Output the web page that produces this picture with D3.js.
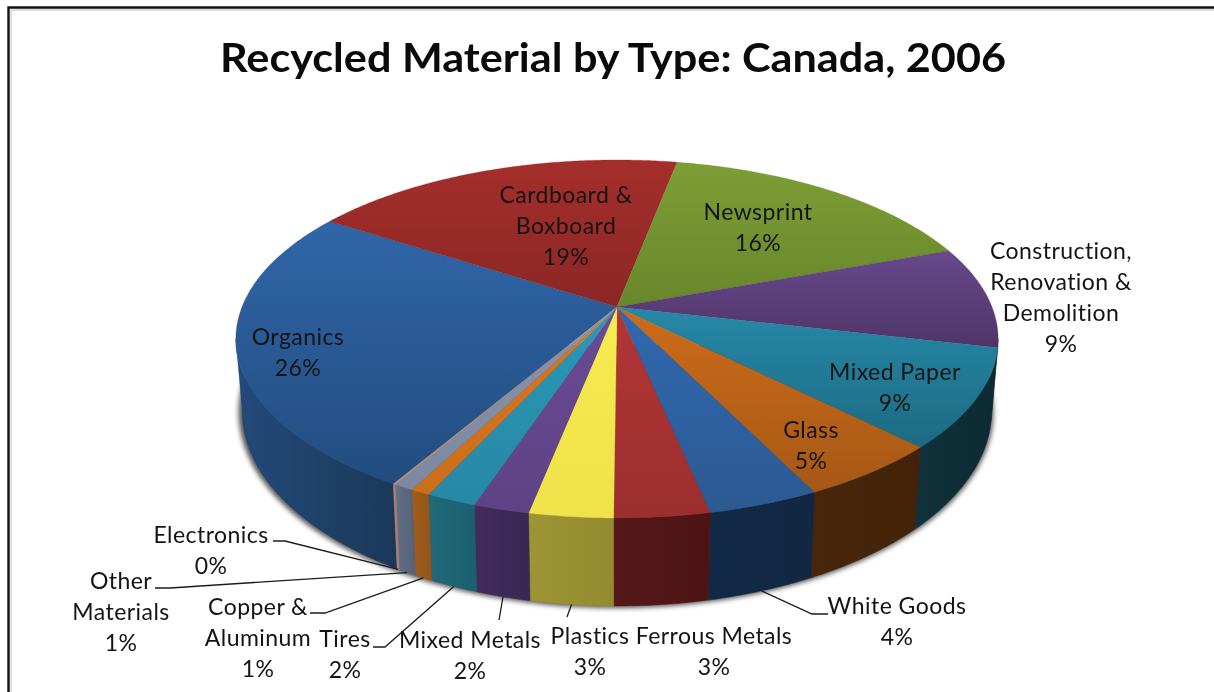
<!DOCTYPE html>
<html>
<head>
<meta charset="utf-8">
<script src="https://cdn.jsdelivr.net/npm/d3@7"></script>
<style>
  html, body { margin: 0; padding: 0; background: #fff; overflow: hidden; }
  svg { display: block; filter: blur(0.5px); }
  .lbl { font-family: Lato, "Noto Sans", sans-serif; font-size: 23px; fill: #141414; text-anchor: middle; dominant-baseline: central; letter-spacing: 0.45px; }
  .ttl { font-family: Lato, "Noto Sans", sans-serif; font-size: 41px; font-weight: 700; fill: #0a0a0a; text-anchor: middle; }
</style>
</head>
<body>
<div id="chart"></div>
<script>
// values, labels show them rounded
let categories = ["Organics", "Cardboard & Boxboard", "Newsprint", "Construction, Renovation & Demolition",
  "Mixed Paper", "Glass", "White Goods", "Ferrous Metals", "Plastics", "Mixed Metals", "Tires",
  "Copper & Aluminum", "Other Materials", "Electronics"]
let values = [25.7, 18.9, 16.4, 9.2, 8.9, 5.2, 4.0, 3.4, 3.0, 2.0, 1.8, 0.7, 0.7, 0.1]

let topLight = ["#3066a9", "#a52e2b", "#7d9e35", "#68488c", "#2689a8", "#cc6c1a", "#3168b0", "#b23636", "#f6eb50", "#6b4a95", "#2b98b8", "#da761e", "#8794aa", "#b09088"]
let topDark = ["#224c7e", "#8a2725", "#68872b", "#4f3468", "#1c6a82", "#a65816", "#2b5a92", "#9c2e2e", "#efe24a", "#5f4285", "#2688a5", "#cc6e1a", "#7b88a0", "#b09088"]
let sideLight = ["#234a7a", "#1c2020", "#333", "#333", "#10323c", "#47260b", "#132a47", "#551717", "#9d9436", "#412c5c", "#216a7a", "#a05d1b", "#626e84", "#a98078"]
let sideDark = ["#1b3859", "#1c2020", "#333", "#333", "#0d2a32", "#42230a", "#112742", "#4e1414", "#948b30", "#3a2753", "#1b5f6e", "#93541a", "#566278", "#a98078"]

// label lines sit at these centres, line pitch is fixed
let labelLines = [["Organics"], ["Cardboard &", "Boxboard"], ["Newsprint"], ["Construction,", "Renovation &", "Demolition"],
  ["Mixed Paper"], ["Glass"], ["White Goods"], ["Ferrous Metals"], ["Plastics"], ["Mixed Metals"], ["Tires"],
  ["Copper &", "Aluminum"], ["Other", "Materials"], ["Electronics"]]
let labelX = [298, 566, 758, 1061, 895, 811, 897, 714, 590, 470, 345, 258, 121, 211]
let labelY = [336, 194, 211, 250, 371, 429, 605, 635, 635, 639, 638, 606, 580, 534]
// leader knees, null = no leader
let leaderKnee = [null, null, null, null, null, null, [[828, 614], [812, 614]], null,
  [[567, 617]], [[499, 620]], [[373, 647], [385, 647]], [[310, 613], [325, 613]], [[155, 588], [170, 588]], [[273, 541], [285, 541]]]

let width = 1214, height = 692

let svg = d3.select("#chart").append("svg").attr("width", width).attr("height", height)
let defs = svg.append("defs")
defs.append("filter").attr("id", "soft").attr("x", "-5%").attr("y", "-5%").attr("width", "110%").attr("height", "110%")
  .append("feGaussianBlur").attr("stdDeviation", 2.6)

// perspective of the pie top: centre of the slices is not the centre of the ellipse
let cx = 617, cy = 307, ra = 173.3, rb = 375, k = 0.1787
function topPoint(t) {
  let X = Math.sin(t), Y = Math.cos(t), w = 1 + k * Y
  return [cx + rb * X / w, cy - ra * Y / w]
}
// bottom rim is the top rim pushed through these two scales
let rimX = d3.scaleLinear().domain([235, 997]).range([241.5, 990.5])
let rimY = d3.scaleLinear().domain([160, 518]).range([216, 606])
function rimPoint(t) {
  let p = topPoint(t)
  return [rimX(p[0]), rimY(p[1])]
}

let startA = 210.3 * Math.PI / 180
let pie = d3.pie().sort(null).startAngle(startA).endAngle(startA + 2 * Math.PI)
let arcs = pie(values)
let line = d3.line()
let step = Math.PI / 360

function angles(a0, a1) {
  let list = d3.range(a0, a1, step)
  list.push(a1)
  return list
}

function addGradient(id, c1, c2, vertical) {
  let g = defs.append("linearGradient").attr("id", id)
    .attr("x1", 0).attr("y1", 0).attr("x2", vertical ? 0 : 1).attr("y2", vertical ? 1 : 0)
  g.append("stop").attr("offset", "0%").attr("stop-color", c1)
  g.append("stop").attr("offset", "100%").attr("stop-color", c2)
}
arcs.forEach(function (d, i) {
  addGradient("top" + i, topLight[i], topDark[i], true)
  addGradient("side" + i, sideLight[i], sideDark[i], false)
})

// soft shadow round the base
svg.append("ellipse").attr("cx", 616).attr("cy", rimY(339) + 1).attr("rx", rimX(997) - 616 + 3).attr("ry", (rimY(518) - rimY(160)) / 2 + 1)
  .attr("fill", "#555").attr("filter", "url(#soft)")
// top ellipse would leave the blurred shadow showing above the pie, cover it
svg.append("rect").attr("x", 200).attr("y", 120).attr("width", 830).attr("height", 225).attr("fill", "#fff")

// walls, only the part facing us
let wallFrom = 100.3 * Math.PI / 180, wallTo = 259.7 * Math.PI / 180
svg.append("g").selectAll("path").data(arcs).enter().append("path")
  .attr("d", function (d) {
    // angles past a full turn are the same points, bring them back
    let a0 = d.startAngle, a1 = d.endAngle
    if (a0 > 2 * Math.PI) { a0 -= 2 * Math.PI; a1 -= 2 * Math.PI }
    a0 = Math.max(a0, wallFrom); a1 = Math.min(a1, wallTo)
    if (a1 <= a0) return null
    let list = angles(a0, a1)
    return line(list.map(topPoint).concat(list.reverse().map(rimPoint))) + "Z"
  })
  .attr("fill", function (d, i) { return "url(#side" + i + ")" })
  .attr("stroke", function (d, i) { return sideDark[i] }).attr("stroke-width", 0.4)

// top face
svg.append("g").selectAll("path").data(arcs).enter().append("path")
  .attr("d", function (d) {
    return line([[cx, cy]].concat(angles(d.startAngle, d.endAngle).map(topPoint))) + "Z"
  })
  .attr("fill", function (d, i) { return "url(#top" + i + ")" })
  .attr("stroke", function (d, i) { return topDark[i] }).attr("stroke-width", 0.3)

// leader lines end on the rim at the middle of the slice
svg.append("g").selectAll("path").data(arcs.filter(function (d, i) { return leaderKnee[i] })).enter().append("path")
  .attr("d", function (d) {
    let mid = (d.startAngle + d.endAngle) / 2
    return line(leaderKnee[d.index].concat([rimPoint(mid)]))
  })
  .attr("fill", "none").attr("stroke", "#1c1c1c").attr("stroke-width", 1.3)

// labels
let pitch = 31
let labels = svg.append("g").selectAll("text").data(arcs).enter().append("text")
  .attr("class", "lbl")
labels.each(function (d, i) {
  let lines = labelLines[i].concat([Math.round(values[i]) + "%"])
  d3.select(this).selectAll("tspan").data(lines).enter().append("tspan")
    .attr("x", labelX[i])
    .attr("y", function (s, j) { return labelY[i] + j * pitch })
    .text(function (s) { return s })
})

svg.append("text").attr("class", "ttl").attr("x", 613).attr("y", 72)
  .attr("textLength", 786).attr("lengthAdjust", "spacingAndGlyphs")
  .text("Recycled Material by Type: Canada, 2006")

// chart frame runs off the picture on the right and at the bottom
svg.append("path").attr("d", "M" + width + ",7.5H8.5V" + height)
  .attr("fill", "none").attr("stroke", "#111").attr("stroke-width", 2.4)
svg.append("path").attr("d", "M" + width + ",10H11V" + height)
  .attr("fill", "none").attr("stroke", "#bbb").attr("stroke-width", 1)
</script>
</body>
</html>
